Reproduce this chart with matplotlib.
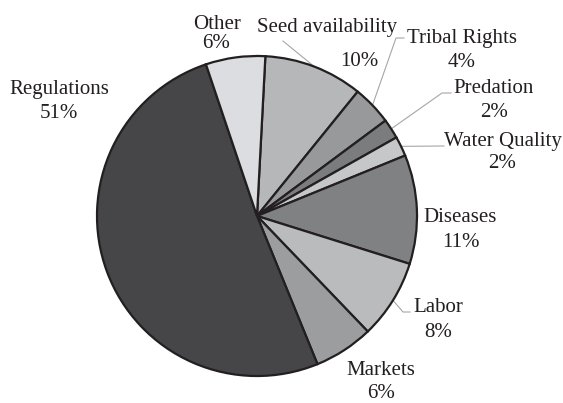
import matplotlib
matplotlib.use("Agg")
import matplotlib.pyplot as plt
import numpy as np

categories = ["Seed availability", "Tribal Rights", "Predation", "Water Quality",
              "Diseases", "Labor", "Markets", "Regulations", "Other"]
values = [10, 4, 2, 2, 11, 8, 6, 51, 6]
pct_labels = ["10%", "4%", "2%", "2%", "11%", "8%", "6%", "51%", "6%"]

colors = ["#b6b7b9", "#98999b", "#7b7c7e", "#c6c7c9", "#808183",
          "#babbbd", "#9b9d9f", "#464648", "#dcdde0"]

W, H = 563, 403
fig = plt.figure(figsize=(W / 100, H / 100), dpi=100)
ax = fig.add_axes([0, 0, 1, 1])

cx, cy, R = 257, 216, 160
def Y(y):
    return H - y

wedges, _ = ax.pie(values, colors=colors, startangle=87, counterclock=False,
                   center=(cx, Y(cy)), radius=R,
                   wedgeprops=dict(edgecolor="#231f20", linewidth=1.6))
ax.set_xlim(0, W)
ax.set_ylim(0, H)
ax.set_aspect("equal")
ax.axis("off")

font = dict(family="Liberation Serif", size=15, color="#231f20")

# label placement (name center x, name baseline y, pct center x, pct baseline y) in pixels
label_pos = {
    "Seed availability": (327, 32, 359, 66),
    "Tribal Rights": (462, 43, 462, 67),
    "Predation": (494, 93, 494, 117),
    "Water Quality": (503, 146, 502, 168),
    "Diseases": (460, 222, 461, 247),
    "Labor": (438, 312, 438, 337),
    "Markets": (381, 375, 381, 398),
    "Regulations": (59, 94, 59, 118),
    "Other": (217, 29, 216, 48),
}
for name, pct in zip(categories, pct_labels):
    nx, ny, px, py = label_pos[name]
    ax.text(nx, Y(ny), name, ha="center", va="baseline", **font)
    ax.text(px, Y(py), pct, ha="center", va="baseline", **font)

# leader lines: knee points in pixels, start at wedge mid-angle on rim
leaders = {
    "Seed availability": [(283, 41)],
    "Tribal Rights": [(396, 38), (404, 38)],
    "Predation": [(442, 93), (451, 93)],
    "Water Quality": [(442, 146), (444, 146)],
    "Labor": [(403, 312), (410, 312)],
}
for w, name in zip(wedges, categories):
    if name not in leaders:
        continue
    mid = np.deg2rad((w.theta1 + w.theta2) / 2)
    ex = cx + R * np.cos(mid)
    ey = Y(cy) + R * np.sin(mid)
    xs = [ex] + [p[0] for p in leaders[name]]
    ys = [ey] + [Y(p[1]) for p in leaders[name]]
    ax.plot(xs, ys, color="#a6a6a6", linewidth=0.8, zorder=0.5)

fig.savefig("out.png", dpi=100)
